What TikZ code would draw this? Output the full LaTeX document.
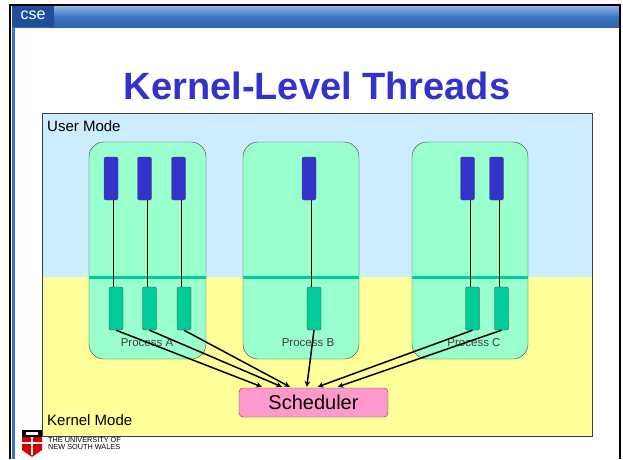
\documentclass[tikz,border=0pt]{standalone}
\usepackage{fontspec}
\setmainfont{Liberation Sans}
\usetikzlibrary{calc}
\definecolor{userblue}{HTML}{CCECFF}
\definecolor{kernyellow}{HTML}{FFFF99}
\definecolor{procgreen}{HTML}{99FFCC}
\definecolor{thrgreen}{HTML}{00CC99}
\definecolor{thrblue}{HTML}{3333CC}
\definecolor{schedpink}{HTML}{FF99CC}
\definecolor{barblue}{HTML}{3A76C6}
\definecolor{tabblue}{HTML}{1E4F98}
\begin{document}
\begin{tikzpicture}[x=1pt,y=-1pt,>=stealth,
   proc/.style={draw=black!75,fill=procgreen,rounded corners=15pt,minimum width=117pt,minimum height=217pt,inner sep=0pt},
   uthread/.style={draw=black!70,fill=thrblue,rounded corners=2pt,minimum width=14pt,minimum height=43pt,inner sep=0pt},
   kthread/.style={draw=black!70,fill=thrgreen,rounded corners=2pt,minimum width=14pt,minimum height=43pt,inner sep=0pt},
   plabel/.style={font=\fontsize{11.5}{12}\selectfont,text=black!75},
   modelabel/.style={anchor=base west,inner sep=0pt,font=\fontsize{15}{16}\selectfont}]
   \useasboundingbox (0,0) rectangle (623,459);
   \fill[white] (0,0) rectangle (623,459);

   % 枠
   \fill[top color=barblue!55!white,bottom color=barblue!85!black,middle color=barblue] (12,6) rectangle (619,27);
   \fill[tabblue] (12,6) rectangle (54,27);
   \node[text=white,font=\fontsize{16}{16}\selectfont] (cse) at (33,15.5) {cse};
   \fill[barblue] (12,27) rectangle (15,459);
   \draw[line width=2pt] (10,459) -- (10,5) -- (620,5) -- (620,459);

   \node[anchor=base,text=thrblue,font=\bfseries\fontsize{38}{38}\selectfont] (title) at (317,99) {Kernel-Level Threads};

   % モード
   \fill[userblue] (42,113) rectangle (592,277);
   \fill[kernyellow] (42,277) rectangle (592,436);
   \draw[black!75] (42,113) rectangle (592,436);
   \node[modelabel] (umode) at (47,131) {User Mode};
   \node[modelabel] (kmode) at (47,425) {Kernel Mode};

   % プロセス
   \node[proc] (pa) at (147.5,250.5) {};
   \node[proc,minimum width=116pt] (pb) at (301,250.5) {};
   \node[proc,minimum width=116pt] (pc) at (470,250.5) {};
   \draw[thrgreen,line width=3pt] (89,277) -- (206,277) (243,277) -- (359,277) (412,277) -- (528,277);
   \node[plabel] (la) at (147,343) {Process A};
   \node[plabel] (lb) at (308,343) {Process B};
   \node[plabel] (lc) at (474,343) {Process C};

   % スレッド
   \node[uthread] (ua1) at (111,178.5) {};
   \node[uthread] (ua2) at (144.5,178.5) {};
   \node[uthread] (ua3) at (178.5,178.5) {};
   \node[uthread] (ub1) at (309,178.5) {};
   \node[uthread] (uc1) at (467.5,178.5) {};
   \node[uthread] (uc2) at (496.5,178.5) {};
   \node[kthread] (ka1) at (116,308.5) {};
   \node[kthread] (ka2) at (149.5,308.5) {};
   \node[kthread] (ka3) at (184,308.5) {};
   \node[kthread] (kb1) at (314,308.5) {};
   \node[kthread] (kc1) at (472.5,308.5) {};
   \node[kthread] (kc2) at (501.5,308.5) {};

   \draw[line width=0.7pt] ([xshift=2.5pt]ua1.south) -- ([xshift=2.5pt]ua1.south |- ka1.north);
   \draw[line width=0.7pt] ([xshift=2.5pt]ua2.south) -- ([xshift=2.5pt]ua2.south |- ka2.north);
   \draw[line width=0.7pt] ([xshift=2.5pt]ua3.south) -- ([xshift=2.5pt]ua3.south |- ka3.north);
   \draw[line width=0.7pt] ([xshift=2.5pt]ub1.south) -- ([xshift=2.5pt]ub1.south |- kb1.north);
   \draw[line width=0.7pt] ([xshift=2.5pt]uc1.south) -- ([xshift=2.5pt]uc1.south |- kc1.north);
   \draw[line width=0.7pt] ([xshift=2.5pt]uc2.south) -- ([xshift=2.5pt]uc2.south |- kc2.north);

   % スケジューラ
   \node[draw=black!70,fill=schedpink,rounded corners=4pt,minimum width=149pt,minimum height=29pt,inner sep=0pt,font=\fontsize{20}{20}\selectfont] (sched) at (313.5,402.5) {Scheduler};
   \coordinate (s1) at ($(sched.north west)+(23,-1)$);
   \coordinate (s2) at ($(sched.north west)+(43,-1)$);
   \coordinate (s3) at ($(sched.north west)+(51,-1)$);
   \coordinate (s4) at ($(sched.north west)+(68,-1)$);
   \coordinate (s5) at ($(sched.north west)+(79,-1)$);
   \coordinate (s6) at ($(sched.north west)+(99,-1)$);
   \draw[->,line width=1.5pt] (ka1.south) -- (s1);
   \draw[->,line width=1.5pt] (ka2.south) -- (s2);
   \draw[->,line width=1.5pt] (ka3.south) -- (s3);
   \draw[->,line width=1.5pt] (kb1.south) -- (s4);
   \draw[->,line width=1.5pt] (kc1.south) -- (s5);
   \draw[->,line width=1.5pt] (kc2.south) -- (s6);

   % ロゴ
   \fill[black] (22,430) rectangle (42,437);
   \fill[red!85!black] (22,437) -- (42,437) -- (42,450) -- (32,457) -- (22,450) -- cycle;
   \draw[white,line width=1.5pt] (32,437) -- (32,455) (22,443) -- (42,443);
   \fill[white] (26,432) rectangle (38,435);
   \node[anchor=north west,inner sep=0pt,align=left,font=\fontsize{7.3}{7.5}\selectfont] (unsw) at (48,437) {THE UNIVERSITY OF\\NEW SOUTH WALES};
\end{tikzpicture}
\end{document}
